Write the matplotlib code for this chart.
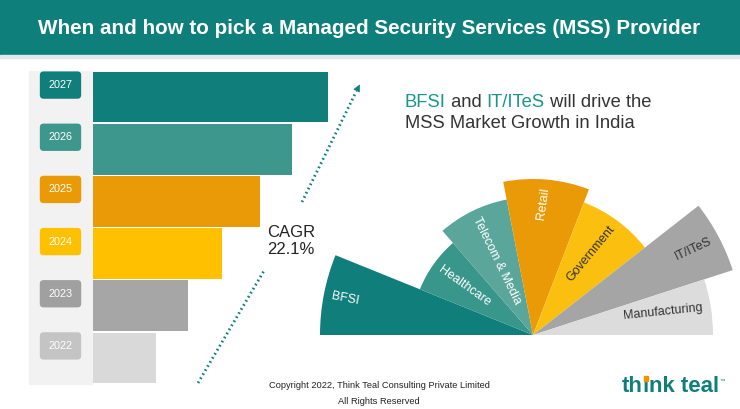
import numpy as np
import matplotlib
matplotlib.use("Agg")
import matplotlib.pyplot as plt
from matplotlib.patches import Rectangle

plt.rcParams['font.family'] = ['Liberation Sans', 'DejaVu Sans']

# market size bars (relative), bottom to top
years = ['2022', '2023', '2024', '2025', '2026', '2027']
market_size = [63, 95, 129, 167, 199, 235]
bar_colors = ['#d9d9d9', '#a6a6a6', '#ffc000', '#ea9a06', '#3e978d', '#107e7a']
box_colors = ['#c4c4c4', '#a0a0a0', '#ffc000', '#ea9a06', '#3e978d', '#107e7a']

# verticals fan, left to right (spans in degrees, sum 180)
sectors = ['BFSI', 'Healthcare', 'Telecom & Media', 'Retail', 'Government', 'IT/ITeS', 'Manufacturing']
spans = [22, 27, 30, 32, 31, 20, 18]
reach = [213, 122, 138, 156, 142, 210, 180]
fan_colors = ['#107e7a', '#39968a', '#5ba69b', '#ea9a06', '#fbbf10', '#a5a5a5', '#dcdcdc']
label_colors = ['white', 'white', 'white', 'white', '#333333', '#333333', '#333333']

teal = '#0f7f7c'
W, H = 740, 409

fig = plt.figure(figsize=(7.4, 4.09), dpi=100)
bg = fig.add_axes([0, 0, 1, 1])
bg.set_xlim(0, W)
bg.set_ylim(H, 0)
bg.axis('off')

# header
bg.add_patch(Rectangle((0, 0), W, 55, color=teal, zorder=0))
bg.add_patch(Rectangle((0, 55), W, 3, color='#dde9ec', zorder=0))
bg.text(369, 28, 'When and how to pick a Managed Security Services (MSS) Provider',
        color='white', fontsize=14.9, fontweight='bold', ha='center', va='center')

# grey strip behind year labels
bg.add_patch(Rectangle((29, 71), 63, 313, color='#f2f2f2', zorder=0))

# bars
ax = fig.add_axes([93 / W, (H - 384) / H, 240 / W, 313 / H])
ax.set_xlim(0, 240)
ax.set_ylim(-0.5, 5.5)
ax.axis('off')
ax.barh(range(len(years)), market_size, height=0.97, color=bar_colors)
for i, yr in enumerate(years):
    ax.text(-32.5, i + 0.23, yr, color='white', fontsize=7.8, ha='center', va='center',
            clip_on=False,
            bbox=dict(boxstyle='round,pad=0.8,rounding_size=0.35', fc=box_colors[i], ec='none'))

# CAGR arrow
bg.plot([198, 265], [383, 269], color=teal, lw=2, ls=(0, (0.6, 1.1)))
bg.plot([302, 356], [202, 92], color=teal, lw=2, ls=(0, (0.6, 1.1)))
bg.annotate('', xy=(361, 82), xytext=(355, 94),
            arrowprops=dict(arrowstyle='-|>', color=teal, lw=0.5, mutation_scale=11))
bg.text(267, 241, 'CAGR\n22.1%', fontsize=12, color='#222222', va='center', ha='left',
        linespacing=1.1)

# headline
hl = '#1b958c'
fs = 13.2
t = bg.text(405, 107, 'BFSI', color=hl, fontsize=fs, va='baseline')
t = bg.annotate(' and ', xy=(1, 0), xycoords=t, va='bottom', fontsize=fs, color='#333333')
t = bg.annotate('IT/ITeS', xy=(1, 0), xycoords=t, va='bottom', fontsize=fs, color=hl)
bg.annotate(' will drive the', xy=(1, 0), xycoords=t, va='bottom', fontsize=fs, color='#333333')
bg.text(405, 128, 'MSS Market Growth in India', fontsize=fs, color='#333333', va='baseline')

# fan of verticals
cx, cy, R = 533, 335, 220
pax = fig.add_axes([(cx - R) / W, (H - cy - R) / H, 2 * R / W, 2 * R / H], projection='polar')
pax.set_ylim(0, R)
pax.axis('off')
edges = 180 - np.concatenate([[0], np.cumsum(spans)])
centers = np.radians((edges[:-1] + edges[1:]) / 2)
widths = np.radians(spans)
pax.bar(centers, reach, width=widths, bottom=0, color=fan_colors, edgecolor='none', align='center')
for th, r, name, lc in zip(centers, reach, sectors, label_colors):
    deg = np.degrees(th)
    if deg > 90:
        rot, ha = deg - 180, 'left'
    else:
        rot, ha = deg - 3, 'right'
    pax.text(th, r - 8, name, rotation=rot, rotation_mode='anchor', ha=ha, va='center',
             color=lc, fontsize=9)

# footer
bg.text(379, 386, 'Copyright 2022, Think Teal Consulting Private Limited',
        fontsize=6.7, ha='center', va='center', color='#222222')
bg.text(379, 402, 'All Rights Reserved', fontsize=6.7, ha='center', va='center', color='#222222')

# logo
lt = bg.text(622, 392, 'th', color=teal, fontsize=16, fontweight='bold', va='baseline')
li = bg.annotate('\u0131', xy=(1, 0), xycoords=lt, va='bottom', color=teal, fontsize=16,
                 fontweight='bold')
ln = bg.annotate('nk teal', xy=(1, 0), xycoords=li, va='bottom', color=teal, fontsize=16,
                 fontweight='bold')
bg.annotate('\u2122', xy=(1, 0.85), xycoords=ln, va='top', color=teal, fontsize=4)

# orange dot of the i, placed from the rendered glyph box
fig.canvas.draw()
bb = li.get_window_extent()
(x0, y0), (x1, y1) = bg.transData.inverted().transform([[bb.x0, bb.y0], [bb.x1, bb.y1]])
xm = (x0 + x1) / 2
bg.add_patch(Rectangle((xm - 1.6, 375.5), 3.2, 5, color='#f39200', zorder=3))

fig.savefig('out.png', dpi=100, facecolor='white')
